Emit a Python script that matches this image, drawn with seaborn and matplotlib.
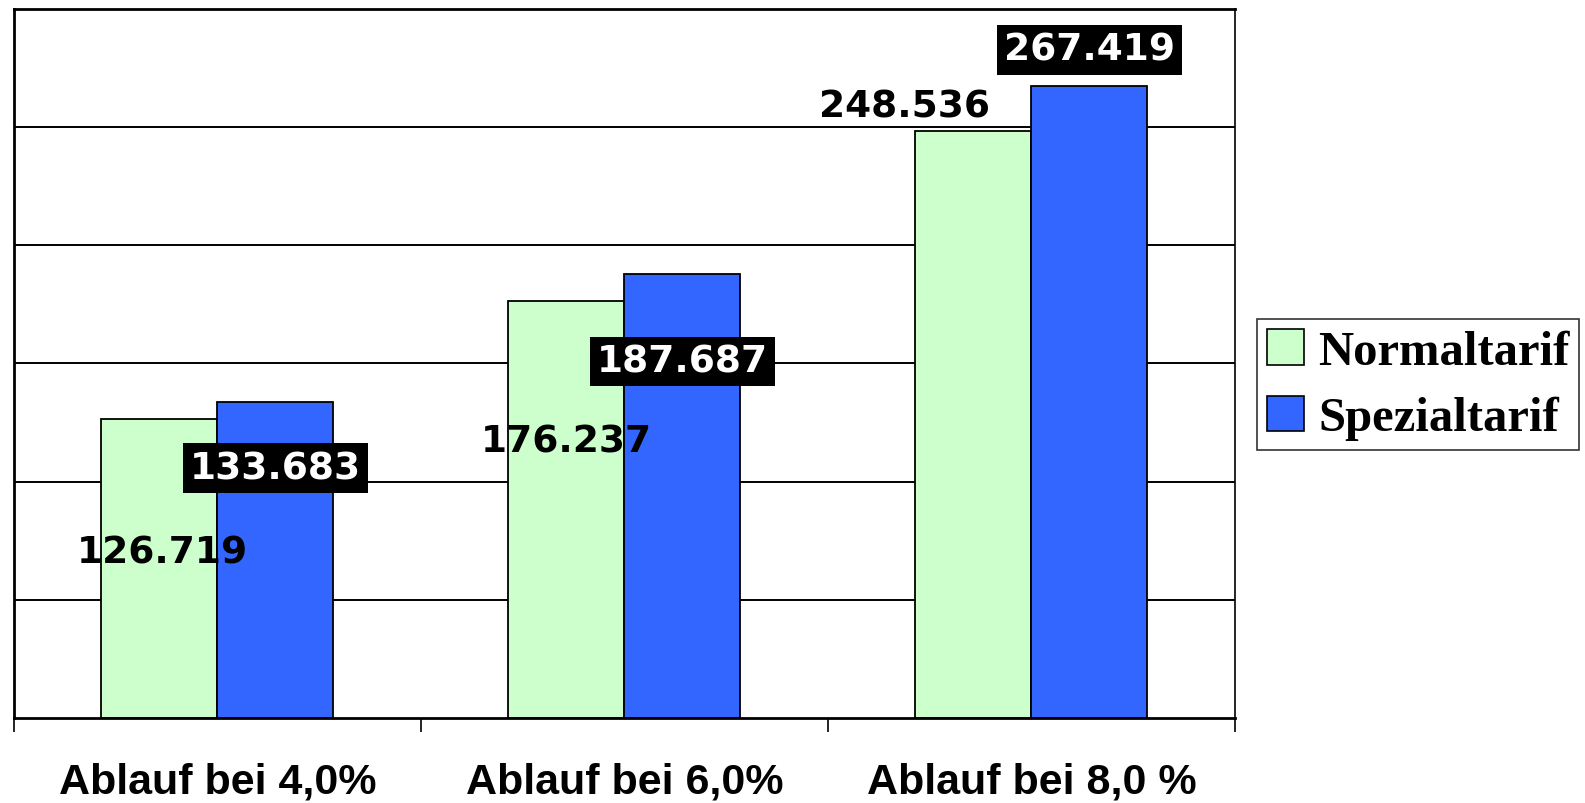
import matplotlib
matplotlib.use("Agg")
import matplotlib.pyplot as plt
import pandas as pd
import seaborn as sns

# Daten
kategorien = ["Ablauf bei 4,0%", "Ablauf bei 6,0%", "Ablauf bei 8,0 %"]
normaltarif = [126.719, 176.237, 248.536]
spezialtarif = [133.683, 187.687, 267.419]
tarife = ["Normaltarif", "Spezialtarif"]
farben = ["#CCFFCC", "#3366FF"]

# Beschriftungs-Versatz (Pixel) relativ zur Balkenoberkante
versatz_normal = [(3, -134), (0, -140), (-69, 24)]
versatz_spezial = [(0, -66), (0, -87), (0, 36)]

df = pd.DataFrame({
    "Kategorie": kategorien * 2,
    "Wert": normaltarif + spezialtarif,
    "Tarif": [tarife[0]] * 3 + [tarife[1]] * 3,
})

sns.set_style("white")
plt.rcParams["font.family"] = ["DejaVu Sans"]
plt.rcParams["text.color"] = "black"
plt.rcParams["xtick.color"] = "black"

fig = plt.figure(figsize=(15.85, 8.04), dpi=100)
ax = fig.add_axes([0.0088, 0.1057, 0.7703, 0.8819])

sns.barplot(
    data=df, x="Kategorie", y="Wert", hue="Tarif",
    palette=farben, width=0.57, edgecolor="black", linewidth=1.3,
    saturation=1, ax=ax,
)
ax.get_legend().remove()

ax.set_xlim(-0.5, 2.5)
ax.set_ylim(0, 300)
ax.set_yticks([50, 100, 150, 200, 250])
ax.yaxis.grid(True, color="black", linewidth=1.4)
ax.set_axisbelow(True)
ax.tick_params(axis="y", left=False, labelleft=False)
ax.set_xlabel("")
ax.set_ylabel("")

# Kategoriegrenzen als Haupt-Ticks, Beschriftung an Nebenticks
ax.set_xticks([-0.5, 0.5, 1.5, 2.5])
ax.set_xticklabels([])
ax.set_xticks([0, 1, 2], minor=True)
ax.set_xticklabels(kategorien, minor=True, fontsize=31, fontweight="bold",
                   color="black", family=["Liberation Sans", "DejaVu Sans"])
ax.tick_params(axis="x", which="major", direction="out", length=10,
               width=1.2, color="black", bottom=True)
ax.tick_params(axis="x", which="minor", length=0, pad=31)

for s in ax.spines.values():
    s.set_color("black")
    s.set_linewidth(2)
    s.set_visible(True)
ax.spines["right"].set_linewidth(1.2)

# Datenbeschriftungen
for bar, wert, (dx, dy) in zip(ax.patches[:3], normaltarif, versatz_normal):
    x = bar.get_x() + bar.get_width() / 2
    ax.annotate(f"{wert:.3f}", (x, bar.get_height()), xytext=(dx, dy),
                textcoords="offset pixels", ha="center", va="center",
                fontsize=27, fontweight="bold", color="black")
for bar, wert, (dx, dy) in zip(ax.patches[3:6], spezialtarif, versatz_spezial):
    x = bar.get_x() + bar.get_width() / 2
    ax.annotate(f"{wert:.3f}", (x, bar.get_height()), xytext=(dx, dy),
                textcoords="offset pixels", ha="center", va="center",
                fontsize=27, fontweight="bold", color="white",
                bbox=dict(boxstyle="square,pad=0.18", fc="black", ec="none"))

# Legende
handles = [plt.Rectangle((0, 0), 1, 1, fc=c, ec="black", lw=1.2) for c in farben]
leg = fig.legend(
    handles, tarife, loc="upper left", bbox_to_anchor=(0.778, 0.632),
    frameon=True, fancybox=False, shadow=False, handlelength=0.75,
    handleheight=0.75, handletextpad=0.3, borderpad=0.2, labelspacing=0.45,
    prop={"family": ["Liberation Serif", "DejaVu Serif"], "weight": "bold", "size": 35},
)
for t in leg.get_texts():
    t.set_color("black")
leg.get_frame().set_edgecolor("black")
leg.get_frame().set_linewidth(1.2)

fig.savefig("out.png", dpi=100)
